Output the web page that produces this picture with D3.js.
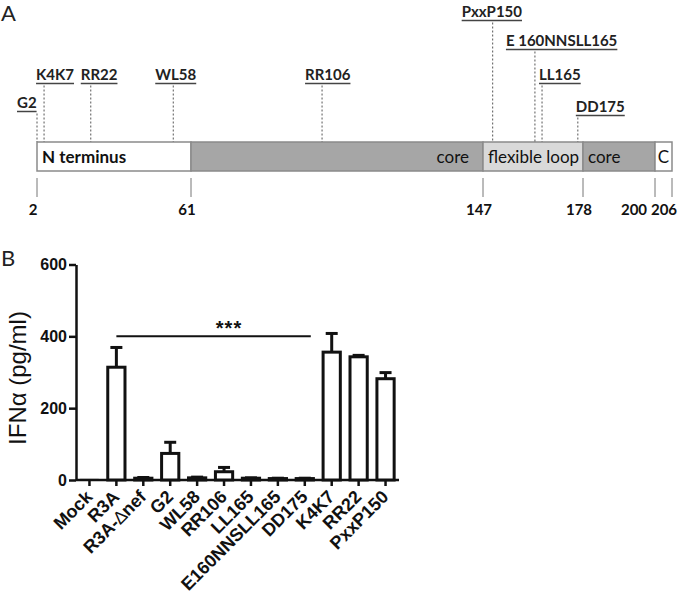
<!DOCTYPE html>
<html>
<head>
<meta charset="utf-8">
<script src="https://cdn.jsdelivr.net/npm/d3@7"></script>
<style>
  body { margin: 0; background: #fff; }
  svg { display: block; }
</style>
</head>
<body>
<div id="my_dataviz"></div>
<script>
// ---- panel A data: Nef domains and mutated sites ----
const domainNames = ["N terminus", "core", "flexible loop", "core", "C"];
const domainStart = [2, 61, 147, 178, 200];
const domainEnd = [61, 147, 178, 200, 206];
const residueTicks = [2, 61, 147, 178, 200, 206];

const siteNames = ["G2", "K4K7", "RR22", "WL58", "RR106", "PxxP150", "E 160NNSLL165", "LL165", "DD175"];
// residue where each dashed marker meets the bar
const sitePos = [2, 4.7, 22.6, 54.2, 99.6, 150, 163.1, 165.3, 176.4];
const siteRow = [3, 2, 2, 2, 2, 0, 1, 2, 4];

// ---- panel B data ----
const mutants = ["Mock", "R3A", "R3A-\u2206nef", "G2", "WL58", "RR106", "LL165", "E160NNSLL165", "DD175", "K4K7", "RR22", "PxxP150"];
const ifnMean = [1, 314, 5, 74, 6, 23, 5, 4, 4, 356, 343, 282];
const ifnSem = [0, 55, 2, 31, 2, 12, 1, 1, 1, 52, 4, 17];
const yTicks = [0, 200, 400, 600];

function drawPanelA(svg) {
    const barTop = 142, barH = 29;
    const rowBaseline = [17, 46, 80, 108, 112];
    // label left edge relative to the dashed line
    const labelDx = {"G2": -20, "K4K7": -8, "RR22": -10, "WL58": -18, "RR106": -17,
                     "PxxP150": -31, "E 160NNSLL165": -29, "LL165": -3, "DD175": -2};
    const tickDx = {"200": -17, "206": -4};
    const fills = ["#ffffff", "#a6a6a6", "#d9d9d9", "#a6a6a6", "#ffffff"];

    // piecewise scale, the drawing is not to scale between domains
    const x = d3.scaleLinear()
        .domain(residueTicks)
        .range([37, 191, 483, 583, 655, 672]);

    svg.append("text")
        .attr("x", 1).attr("y", 21)
        .attr("font-family", "Lato, 'Open Sans', sans-serif")
        .attr("font-size", "22px")
        .attr("fill", "#222")
        .text("A");

    const domains = domainNames.map((n, i) => ({name: n, s: domainStart[i], e: domainEnd[i], i: i}));

    svg.selectAll(".domain-rect")
        .data(domains)
        .enter().append("rect")
        .attr("class", "domain-rect")
        .attr("x", d => x(d.s))
        .attr("y", barTop)
        .attr("width", d => x(d.e) - x(d.s))
        .attr("height", barH)
        .attr("fill", d => fills[d.i])
        .attr("stroke", "#8a8a8a")
        .attr("stroke-width", 1.5);

    svg.selectAll(".domain-label")
        .data(domains)
        .enter().append("text")
        .attr("class", "domain-label")
        .attr("x", d => d.i === 1 ? x(d.e) - 14 : d.i === 4 ? (x(d.s) + x(d.e)) / 2 : x(d.s) + 5)
        .attr("y", barTop + barH / 2 + 6)
        .attr("text-anchor", d => d.i === 1 ? "end" : d.i === 4 ? "middle" : "start")
        .attr("font-family", "Lato, 'Open Sans', sans-serif")
        .attr("font-weight", d => d.i === 0 ? "bold" : "normal")
        .attr("font-size", "17px")
        .attr("fill", "#111")
        .text(d => d.name);

    // residue ticks under the bar
    svg.selectAll(".res-tick")
        .data(residueTicks)
        .enter().append("line")
        .attr("class", "res-tick")
        .attr("x1", d => x(d)).attr("x2", d => x(d))
        .attr("y1", 178).attr("y2", 197)
        .attr("stroke", "#777")
        .attr("stroke-width", 1);

    svg.selectAll(".res-label")
        .data(residueTicks)
        .enter().append("text")
        .attr("class", "res-label")
        .attr("x", d => x(d) - 4 + (tickDx[d] || 0))
        .attr("y", 215)
        .attr("text-anchor", "middle")
        .attr("font-family", "Lato, 'Open Sans', sans-serif")
        .attr("font-weight", "bold")
        .attr("font-size", "15px")
        .attr("fill", "#111")
        .text(d => d);

    const sites = siteNames.map((n, i) => ({name: n, pos: sitePos[i], row: siteRow[i]}));

    const g = svg.selectAll(".site")
        .data(sites)
        .enter().append("g")
        .attr("class", "site");

    const labels = g.append("text")
        .attr("x", d => x(d.pos) + labelDx[d.name])
        .attr("y", d => rowBaseline[d.row])
        .attr("font-family", "Lato, 'Open Sans', sans-serif")
        .attr("font-weight", "bold")
        .attr("font-size", "15px")
        .attr("fill", "#222")
        .text(d => d.name);

    labels.each(function(d) {
        const w = this.getComputedTextLength();
        const x0 = x(d.pos) + labelDx[d.name];
        const uy = rowBaseline[d.row] + 3.5;
        d3.select(this.parentNode).append("line")
            .attr("x1", x0).attr("x2", x0 + w)
            .attr("y1", uy).attr("y2", uy)
            .attr("stroke", "#444")
            .attr("stroke-width", 1.5);
        d3.select(this.parentNode).append("line")
            .attr("x1", x(d.pos)).attr("x2", x(d.pos))
            .attr("y1", uy + 2).attr("y2", barTop)
            .attr("stroke", "#555")
            .attr("stroke-width", 1)
            .attr("stroke-dasharray", "2,2");
    });
}

function drawPanelB(svg) {
    const font = "Arial, 'Liberation Sans', sans-serif";

    svg.append("text")
        .attr("x", 1).attr("y", 266)
        .attr("font-family", "Lato, 'Open Sans', sans-serif")
        .attr("font-size", "22px")
        .attr("fill", "#222")
        .text("B");

    const x = d3.scaleBand()
        .domain(mutants)
        .range([76, 399])
        .paddingInner(0.36)
        .paddingOuter(0.18);

    const y = d3.scaleLinear()
        .domain([0, 600])
        .range([480, 264.5]);

    const cx = d => x.step() * (mutants.indexOf(d) + 0.5) + 76;

    // y axis
    const yAxis = svg.append("g")
        .attr("transform", "translate(76,0)")
        .call(d3.axisLeft(y).tickValues(yTicks).tickSize(7).tickPadding(2).tickSizeOuter(0));
    yAxis.select(".domain").attr("stroke-width", 2.5).attr("stroke", "#111");
    yAxis.selectAll(".tick line").attr("stroke-width", 2.5).attr("stroke", "#111");
    yAxis.selectAll(".tick text")
        .attr("font-family", font)
        .attr("font-weight", "bold")
        .attr("font-size", "16px")
        .attr("fill", "#111");

    // x axis with ticks at category centres
    svg.append("line")
        .attr("x1", 76).attr("x2", 399)
        .attr("y1", y(0)).attr("y2", y(0))
        .attr("stroke", "#111")
        .attr("stroke-width", 2.5);

    svg.selectAll(".xtick")
        .data(mutants)
        .enter().append("line")
        .attr("class", "xtick")
        .attr("x1", d => cx(d)).attr("x2", d => cx(d))
        .attr("y1", y(0)).attr("y2", y(0) + 6)
        .attr("stroke", "#111")
        .attr("stroke-width", 2.5);

    const xl = svg.selectAll(".xlabel")
        .data(mutants)
        .enter().append("text")
        .attr("class", "xlabel")
        .attr("transform", d => `translate(${cx(d) + 4},${y(0) + 18}) rotate(-45)`)
        .attr("text-anchor", "end")
        .attr("font-family", font)
        .attr("font-weight", "bold")
        .attr("font-size", "18px")
        .attr("fill", "#111");

    xl.each(function(d) {
        const t = d3.select(this);
        if (d.indexOf("\u2206") >= 0) {
            const parts = d.split("\u2206");
            t.append("tspan").text(parts[0]);
            t.append("tspan").attr("font-weight", "normal").text("\u2206");
            t.append("tspan").text(parts[1]);
        } else {
            t.text(d);
        }
    });

    const data = mutants.map((m, i) => ({name: m, mean: ifnMean[i], sem: ifnSem[i]}));

    // error bars (upper only)
    const err = svg.selectAll(".err")
        .data(data.filter(d => d.sem > 0))
        .enter().append("g")
        .attr("class", "err");
    err.append("line")
        .attr("x1", d => cx(d.name)).attr("x2", d => cx(d.name))
        .attr("y1", d => y(d.mean)).attr("y2", d => y(d.mean + d.sem))
        .attr("stroke", "#111")
        .attr("stroke-width", 3);
    err.append("line")
        .attr("x1", d => cx(d.name) - 6).attr("x2", d => cx(d.name) + 6)
        .attr("y1", d => y(d.mean + d.sem)).attr("y2", d => y(d.mean + d.sem))
        .attr("stroke", "#111")
        .attr("stroke-width", 3);

    svg.selectAll(".bar")
        .data(data)
        .enter().append("rect")
        .attr("class", "bar")
        .attr("x", d => x(d.name))
        .attr("y", d => y(d.mean))
        .attr("width", x.bandwidth())
        .attr("height", d => y(0) - y(d.mean))
        .attr("fill", "#fff")
        .attr("stroke", "#111")
        .attr("stroke-width", d => d.mean > 2 ? 3 : 1.5);

    // significance line R3A .. DD175
    svg.append("line")
        .attr("x1", cx("R3A")).attr("x2", cx("DD175") + 6)
        .attr("y1", y(400)).attr("y2", y(400))
        .attr("stroke", "#111")
        .attr("stroke-width", 2);
    svg.append("text")
        .attr("x", 229).attr("y", 335)
        .attr("text-anchor", "middle")
        .attr("font-family", font)
        .attr("font-weight", "bold")
        .attr("font-size", "20px")
        .attr("letter-spacing", "1px")
        .attr("fill", "#111")
        .text("***");

    svg.append("text")
        .attr("transform", "translate(26,378) rotate(-90)")
        .attr("text-anchor", "middle")
        .attr("font-family", font)
        .attr("font-size", "24px")
        .attr("fill", "#111")
        .text("IFN\u03b1 (pg/ml)");
}

document.addEventListener('DOMContentLoaded', function () {
    const svg = d3.select("#my_dataviz")
        .append("svg")
        .attr("width", 680)
        .attr("height", 596);
    svg.append("rect").attr("width", 680).attr("height", 596).attr("fill", "#fff");
    drawPanelA(svg);
    drawPanelB(svg);
});
</script>
</body>
</html>
